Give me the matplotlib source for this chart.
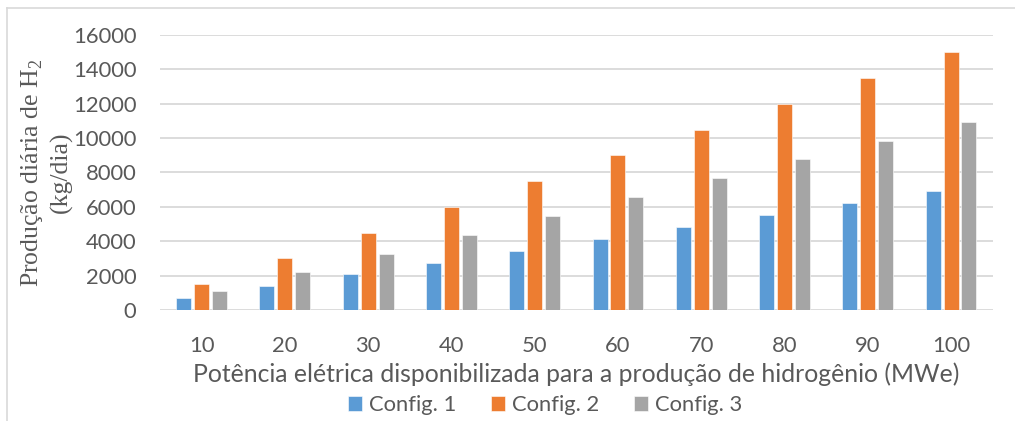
import numpy as np
import matplotlib.pyplot as plt
from matplotlib.lines import Line2D

# potência disponível (MWe) e produção diária de H2 (kg/dia) por configuração
potencia = [10, 20, 30, 40, 50, 60, 70, 80, 90, 100]
config1 = [690, 1380, 2070, 2760, 3450, 4140, 4830, 5520, 6210, 6900]
config2 = [1500, 3000, 4500, 6000, 7500, 9000, 10500, 12000, 13500, 15000]
config3 = [1095, 2190, 3285, 4380, 5475, 6570, 7665, 8760, 9855, 10950]
series = {"Config. 1": config1, "Config. 2": config2, "Config. 3": config3}
cores = ["#5B9BD5", "#ED7D31", "#A5A5A5"]

plt.rcParams['font.family'] = ['Lato', 'DejaVu Sans']
plt.rcParams['mathtext.fontset'] = 'custom'
plt.rcParams['mathtext.rm'] = 'Liberation Serif'
txt = "#595959"
grid = "#D9D9D9"

fig = plt.figure(figsize=(10.15, 4.21), dpi=100)
ax = fig.add_axes([0.1576, 0.2637, 0.8204, 0.6532])

x = np.arange(len(potencia))
w = 0.18
for i, (nome, vals) in enumerate(series.items()):
    ax.bar(x + (i - 1) * 0.215, vals, width=w, color=cores[i],
           edgecolor="white", linewidth=0.4, label=nome, zorder=3)

ax.set_xlim(-0.5, len(potencia) - 0.5)
ax.set_ylim(0, 16000)
ax.set_yticks(np.arange(0, 16001, 2000))
ax.set_xticks(x)
ax.set_xticklabels([str(p) for p in potencia])
ax.yaxis.grid(True, color=grid, linewidth=1.3, zorder=0)
ax.set_axisbelow(True)
for s in ax.spines.values():
    s.set_visible(False)
ax.tick_params(length=0, labelsize=15.8, colors=txt)
ax.tick_params(axis='y', pad=17)
ax.tick_params(axis='x', pad=19)

ax.set_xlabel("Potência elétrica disponibilizada para a produção de hidrogênio (MWe)",
              fontsize=17.8, color=txt, labelpad=4)
ax.set_ylabel("Produção diária de H$_2$\n(kg/dia)", family="Liberation Serif",
              fontsize=18.5, color=txt, linespacing=1.3)
ax.yaxis.set_label_coords(-0.1045, 0.5)

ax.legend(loc="center", bbox_to_anchor=(545 / 1015, 1 - 405 / 421),
          bbox_transform=fig.transFigure, ncol=3, frameon=False,
          fontsize=15.8, labelcolor=txt, handlelength=0.65, handleheight=0.65,
          handletextpad=0.3, columnspacing=1.6)

# moldura do gráfico
fig.add_artist(Line2D([7 / 1015, 1.0], [1 - 8 / 421] * 2, color=grid, linewidth=1.2))
fig.add_artist(Line2D([7 / 1015] * 2, [1 - 8 / 421, 0.0], color=grid, linewidth=1.2))

fig.savefig("out.png", dpi=100)
